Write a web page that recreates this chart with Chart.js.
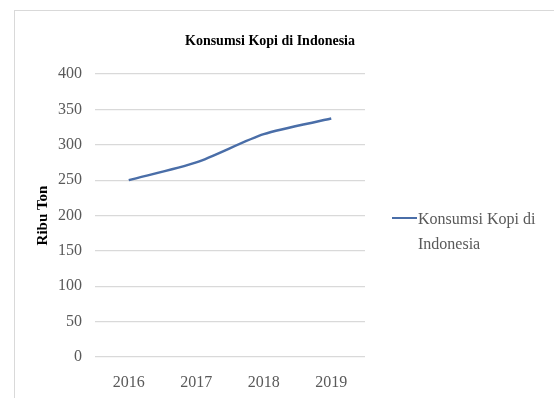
<!DOCTYPE html>
<html>
<head>
<meta charset="utf-8">
<script src="https://cdn.jsdelivr.net/npm/chart.js@4/dist/chart.umd.min.js"></script>
<style>
  html, body { margin: 0; padding: 0; background: #fff; overflow: hidden; width: 554px; height: 398px; }
  #frame { position: absolute; left: 14px; top: 10px; width: 700px; height: 500px; border: 1px solid #d9d9d9; box-sizing: border-box; }
  #wrap { position: absolute; left: 0; top: 0; width: 540px; height: 398px; }
  #legend { position: absolute; left: 392px; top: 206px; font-family: "Liberation Serif", "Times New Roman", serif; font-size: 16px; color: #595959; line-height: 25px; }
  #legend .sw { position: absolute; left: 0; top: 11px; width: 25px; height: 0; border-top: 2.5px solid #4a6ea8; }
  #legend .tx { margin-left: 26px; width: 140px; }
</style>
</head>
<body>
<div id="frame"></div>
<div id="wrap"><canvas id="c" width="540" height="398"></canvas></div>
<div id="legend"><div class="sw"></div><div class="tx" id="legtext"></div></div>
<script>
const categories = ["2016", "2017", "2018", "2019"];
const konsumsiValues = [250, 275, 315, 337];
const seriesName = "Konsumsi Kopi di Indonesia";
const chartTitle = "Konsumsi Kopi di Indonesia";
const yAxisTitle = "Ribu Ton";
const yTicks = [0, 50, 100, 150, 200, 250, 300, 350, 400];

document.getElementById('legtext').textContent = seriesName;

const serif = "'Liberation Serif', 'Times New Roman', serif";

new Chart(document.getElementById('c'), {
  type: 'line',
  data: {
    labels: categories,
    datasets: [{
      label: seriesName,
      data: konsumsiValues,
      borderColor: '#4a6ea8',
      backgroundColor: '#4a6ea8',
      borderWidth: 2.5,
      pointRadius: 0,
      tension: 0.25,
      fill: false
    }]
  },
  options: {
    responsive: false,
    animation: false,
    layout: { padding: { left: 0, right: 0, top: 32.6, bottom: 5.4 } },
    plugins: {
      legend: { display: false },
      tooltip: { enabled: false },
      title: {
        display: true,
        text: chartTitle,
        color: '#000',
        font: { family: serif, size: 14, weight: 'bold' },
        padding: { top: 0, bottom: 24.6 }
      }
    },
    scales: {
      x: {
        offset: true,
        afterFit: (s) => { s.height = 35.6; },
        grid: { display: false, drawTicks: false },
        border: { display: false },
        ticks: { color: '#595959', font: { family: serif, size: 16 }, padding: 16.4, maxRotation: 0 }
      },
      y: {
        min: 0,
        max: 400,
        afterFit: (s) => { s.width = 95; },
        afterBuildTicks: (s) => { s.ticks = yTicks.map(v => ({ value: v })); },
        grid: { color: '#d9d9d9', lineWidth: 1.2, drawTicks: false },
        border: { display: false },
        ticks: { color: '#595959', font: { family: serif, size: 16 }, padding: 13 },
        title: {
          display: true,
          text: yAxisTitle,
          color: '#000',
          font: { family: serif, size: 15, weight: 'bold' },
          padding: { top: 34, bottom: 4 }
        }
      },
      yr: {
        position: 'right',
        min: 0,
        max: 400,
        afterFit: (s) => { s.width = 175; },
        grid: { display: false, drawTicks: false },
        border: { display: false },
        ticks: { display: false }
      }
    }
  }
});
</script>
</body>
</html>
